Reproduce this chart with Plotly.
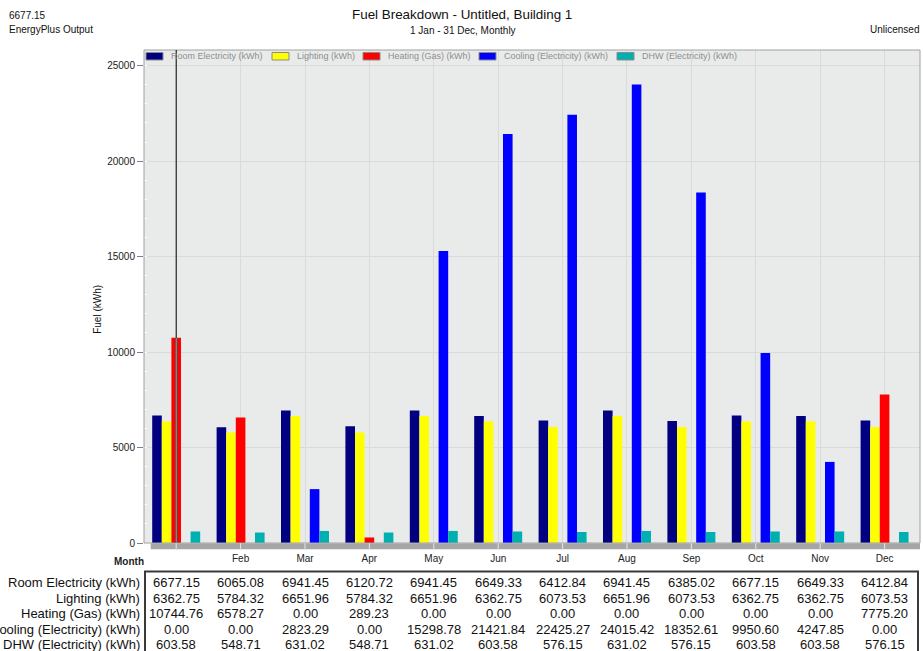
import plotly.graph_objects as go

# ---------------- data ----------------
months = ["Jan", "Feb", "Mar", "Apr", "May", "Jun", "Jul", "Aug", "Sep", "Oct", "Nov", "Dec"]
month_tick_labels = ["", "Feb", "Mar", "Apr", "May", "Jun", "Jul", "Aug", "Sep", "Oct", "Nov", "Dec"]

room_electricity = [6677.15, 6065.08, 6941.45, 6120.72, 6941.45, 6649.33, 6412.84, 6941.45, 6385.02, 6677.15, 6649.33, 6412.84]
lighting = [6362.75, 5784.32, 6651.96, 5784.32, 6651.96, 6362.75, 6073.53, 6651.96, 6073.53, 6362.75, 6362.75, 6073.53]
heating_gas = [10744.76, 6578.27, 0.00, 289.23, 0.00, 0.00, 0.00, 0.00, 0.00, 0.00, 0.00, 7775.20]
cooling_elec = [0.00, 0.00, 2823.29, 0.00, 15298.78, 21421.84, 22425.27, 24015.42, 18352.61, 9950.60, 4247.85, 0.00]
dhw_elec = [603.58, 548.71, 631.02, 548.71, 631.02, 603.58, 576.15, 631.02, 576.15, 603.58, 603.58, 576.15]

series_names = ["Room Electricity (kWh)", "Lighting (kWh)", "Heating (Gas) (kWh)",
                "Cooling (Electricity) (kWh)", "DHW (Electricity) (kWh)"]
series_values = [room_electricity, lighting, heating_gas, cooling_elec, dhw_elec]
series_colors = ["#000080", "#FFFF00", "#FF0000", "#0000FF", "#00B0B0"]

y_ticks = [0, 5000, 10000, 15000, 20000, 25000]

# ---------------- layout geometry (pixels) ----------------
W, H = 923, 651
ML, MR, MT = 144, 3, 50
PLOT_BOTTOM = 543.3
MB = H - PLOT_BOTTOM
PW = W - ML - MR
PH = PLOT_BOTTOM - MT


def px_x(px):
    return (px - ML) / PW


def px_y(py):
    return (PLOT_BOTTOM - py) / PH


FONT = "Liberation Sans, Arial, sans-serif"

fig = go.Figure()
xs = list(range(len(months)))
for name, vals, col in zip(series_names, series_values, series_colors):
    fig.add_trace(go.Bar(x=xs, y=vals, name=name, marker=dict(color=col, line=dict(width=0)),
                         hovertext=months))

fig.update_layout(
    width=W, height=H,
    margin=dict(l=ML, r=MR, t=MT, b=MB, pad=0),
    paper_bgcolor="white", plot_bgcolor="#E9EBEB",
    barmode="group", bargap=0.255, bargroupgap=0,
    showlegend=False,
    font=dict(family=FONT, size=10, color="#222"),
)

fig.update_xaxes(
    range=[-0.5, 11.55], tickmode="array", tickvals=xs, ticktext=month_tick_labels,
    showgrid=True, gridcolor="#D9DBDB", gridwidth=1,
    ticks="outside", ticklen=6, tickcolor="#E4E4E4", tickwidth=1,
    tickfont=dict(size=10, color="#222", family=FONT),
    showline=False, zeroline=False,
)
fig.update_yaxes(
    range=[0, 25822], tickmode="array", tickvals=y_ticks, ticktext=[str(v) for v in y_ticks],
    showgrid=True, gridcolor="#D9DBDB", gridwidth=1,
    ticks="outside", ticklen=6, tickcolor="#808080", tickwidth=1,
    tickfont=dict(size=10, color="#222", family=FONT),
    minor=dict(dtick=1000, ticks="inside", ticklen=3, tickcolor="white", showgrid=False),
    showline=False, zeroline=False,
)

shapes = []
# plot border
shapes.append(dict(type="rect", xref="paper", yref="paper", x0=0, x1=1, y0=0, y1=1,
                   line=dict(color="#A0A0A0", width=1), fillcolor="rgba(0,0,0,0)", layer="above"))
# floor band below zero line
shapes.append(dict(type="rect", xref="paper", yref="paper", x0=px_x(150.7), x1=1,
                   y0=px_y(549.5), y1=px_y(543.5), line=dict(width=0), fillcolor="#A6A6A6", layer="above"))
# light tick marks on the floor band at month centres
for i in xs:
    shapes.append(dict(type="line", xref="x", yref="paper", x0=i, x1=i,
                       y0=px_y(549.5), y1=px_y(543.5), line=dict(color="#E6E6E6", width=1), layer="above"))
# cursor line at January
shapes.append(dict(type="line", xref="x", yref="paper", x0=0, x1=0, y0=0, y1=1,
                   line=dict(color="black", width=1), layer="above"))
shapes.append(dict(type="line", xref="x", yref="y", x0=0, x1=0, y0=0, y1=heating_gas[0],
                   line=dict(color="#00FFFF", width=1), layer="above"))

annotations = []
# manual legend
legend_swatch_x = [146, 272, 363, 479, 617]
for name, col, sx in zip(series_names, series_colors, legend_swatch_x):
    shapes.append(dict(type="rect", xref="paper", yref="paper",
                       x0=px_x(sx), x1=px_x(sx + 17), y0=px_y(60), y1=px_y(52.5),
                       fillcolor=col, line=dict(color="#8A8A8A", width=1), layer="above"))
    annotations.append(dict(xref="paper", yref="paper", x=px_x(sx + 23), y=px_y(56.3),
                            xanchor="left", yanchor="middle", showarrow=False, text=name,
                            font=dict(size=9, color="#8E8E8E", family=FONT)))

# header texts
annotations += [
    dict(xref="paper", yref="paper", x=px_x(7), y=px_y(15.5), xanchor="left", yanchor="middle",
         showarrow=False, text="6677.15", font=dict(size=10, color="#111", family=FONT)),
    dict(xref="paper", yref="paper", x=px_x(7), y=px_y(29.5), xanchor="left", yanchor="middle",
         showarrow=False, text="EnergyPlus Output", font=dict(size=10, color="#111", family=FONT)),
    dict(xref="paper", yref="paper", x=px_x(462), y=px_y(14), xanchor="center", yanchor="middle",
         showarrow=False, text="Fuel Breakdown - Untitled, Building 1",
         font=dict(size=13.4, color="#111", family=FONT)),
    dict(xref="paper", yref="paper", x=px_x(463), y=px_y(30), xanchor="center", yanchor="middle",
         showarrow=False, text="1 Jan - 31 Dec, Monthly", font=dict(size=10, color="#111", family=FONT)),
    dict(xref="paper", yref="paper", x=px_x(921), y=px_y(29.5), xanchor="right", yanchor="middle",
         showarrow=False, text="Unlicensed", font=dict(size=10, color="#111", family=FONT)),
    dict(xref="paper", yref="paper", x=px_x(98), y=px_y(310), xanchor="center", yanchor="middle",
         showarrow=False, text="Fuel (kWh)", textangle=-90, font=dict(size=10, color="#111", family=FONT)),
    dict(xref="paper", yref="paper", x=px_x(128.5), y=px_y(562), xanchor="center", yanchor="middle",
         showarrow=False, text="<b>Month</b>", font=dict(size=10, color="#222", family=FONT)),
]

# data table below the chart
row_y = [583.3, 599.0, 614.3, 629.6, 645.0]
shapes.append(dict(type="rect", xref="paper", yref="paper", x0=px_x(145), x1=px_x(918),
                   y0=px_y(680), y1=px_y(571.7), line=dict(color="#3A3A3A", width=2),
                   fillcolor="rgba(0,0,0,0)"))
for name, vals, ry in zip(series_names, series_values, row_y):
    annotations.append(dict(xref="paper", yref="paper", x=px_x(141.5), y=px_y(ry),
                            xanchor="right", yanchor="middle", showarrow=False, text=name,
                            font=dict(size=13, color="#111", family=FONT)))
    for i, v in enumerate(vals):
        annotations.append(dict(xref="x", yref="paper", x=i, y=px_y(ry),
                                xanchor="center", yanchor="middle", showarrow=False,
                                text=f"{v:.2f}", font=dict(size=13, color="#111", family=FONT)))

fig.update_layout(shapes=shapes, annotations=annotations)
fig.write_html("out.html", config={"displayModeBar": False},
               post_script="document.body.style.margin='0';document.body.style.overflow='hidden';")
